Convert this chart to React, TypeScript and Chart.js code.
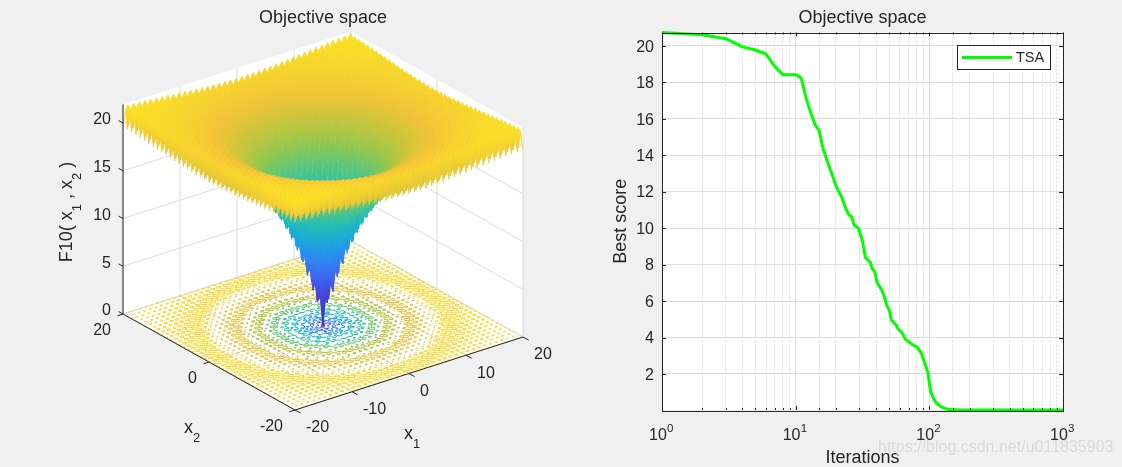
import React, { useEffect, useRef } from "react";
import { Chart, registerables, ScatterController } from "chart.js";

Chart.register(...registerables);

// ---- convergence curve, right panel ----
const iterations = [1, 2, 3, 4, 5, 6, 7, 8, 9, 10, 11, 12, 13, 14, 15, 16, 17, 18, 19, 20, 21, 22, 23, 24, 25, 26.2, 27.4, 29.5, 31.5, 33.3, 36.3, 37.3, 39.1, 40.7, 43.8, 45.6, 48.3, 50.2, 52, 56.4, 58.3, 62.5, 66.2, 72.1, 80.9, 87.1, 92.3, 97.7, 100, 102.3, 107.7, 114, 124, 139, 175, 300, 1000];
const bestScore = [20.72, 20.6, 20.38, 19.93, 19.76, 19.54, 18.85, 18.41, 18.41, 18.41, 18.23, 17.08, 16.3, 15.65, 15.34, 14.37, 13.8, 13.28, 12.82, 12.32, 12.0, 11.73, 11.33, 11.0, 10.72, 10.63, 10.17, 9.99, 9.33, 8.38, 8.11, 7.78, 7.6, 7.0, 6.64, 6.33, 5.73, 5.51, 4.96, 4.69, 4.47, 4.27, 3.91, 3.69, 3.47, 3.15, 2.6, 2.05, 1.51, 1.05, 0.64, 0.38, 0.18, 0.05, 0.03, 0.03, 0.03];
const scoreTicks = [2, 4, 6, 8, 10, 12, 14, 16, 18, 20];
const iterationDecades = [1, 10, 100, 1000];
const iterationExponents = ["0", "1", "2", "3"];
const seriesName = "TSA";
const titleText = "Objective space";

const surfaceRadius = [0, 0.5, 1, 1.5, 2, 3, 4, 5, 6, 8, 10, 12, 14, 16, 18, 20, 22, 24, 26, 28.3];
const surfaceFloor = [0, 1.35, 2.64, 3.82, 4.92, 6.9, 8.64, 10.14, 11.44, 13.56, 15.14, 16.34, 17.23, 17.92, 18.43, 18.82, 19.11, 19.33, 19.49, 19.63];
const rippleLift = [0, 1.72, 2.35]; // cell lift for 0, 1, 2 half-integer coordinates
const contourLevels = [2, 4, 6, 8, 10, 12, 14, 16, 18, 20];
const x1Ticks = [-20, -10, 0, 10, 20];
const x2Ticks = [-20, 0, 20];
const zTicks = [0, 5, 10, 15, 20];
const zTop = 21.95;
const gridCells = 80;
const gridSpan = 20;
const shadeShift = 1.2;

const FONT = '"Liberation Sans", Arial, sans-serif';
const INK = "#262626";
const GRID = "#dcdcdc";
const PANEL_W = 561;
const PAGE_H = 467;
const LEFT_PAD = 85;

const parula: [number, number, number][] = [
  [62, 38, 168], [72, 82, 244], [46, 135, 247], [18, 177, 214], [55, 200, 151],
  [171, 199, 57], [254, 195, 56], [249, 251, 21],
];
function colourAt(z: number): string {
  const t = Math.max(0, Math.min(1, z / zTop)) * (parula.length - 1);
  const i = Math.min(parula.length - 2, Math.floor(t));
  const f = t - i;
  const c = parula[i].map((v, k) => Math.round(v + (parula[i + 1][k] - v) * f));
  return `rgb(${c[0]},${c[1]},${c[2]})`;
}

function project(x1: number, x2: number, z: number) {
  return {
    x: 323 + x1 * 5.7 - x2 * 4.3,
    y: 325.5 - x1 * 1.825 - x2 * 2.4 - z * 9.55,
  };
}

function floorAt(r: number): number {
  for (let i = 1; i < surfaceRadius.length; i++) {
    if (r <= surfaceRadius[i]) {
      const f = (r - surfaceRadius[i - 1]) / (surfaceRadius[i] - surfaceRadius[i - 1]);
      return surfaceFloor[i - 1] + (surfaceFloor[i] - surfaceFloor[i - 1]) * f;
    }
  }
  return surfaceFloor[surfaceFloor.length - 1];
}

function buildHeights(): number[][] {
  const out: number[][] = [];
  for (let i = 0; i <= gridCells; i++) {
    const row: number[] = [];
    for (let j = 0; j <= gridCells; j++) {
      const x1 = -gridSpan + (i * 2 * gridSpan) / gridCells;
      const x2 = -gridSpan + (j * 2 * gridSpan) / gridCells;
      row.push(floorAt(Math.hypot(x1, x2)) + rippleLift[(i % 2) + (j % 2)]);
    }
    out.push(row);
  }
  return out;
}
const cellToCoord = (i: number) => -gridSpan + (i * 2 * gridSpan) / gridCells;

class QuadMeshController extends ScatterController {
  static id = "quadMesh";
  draw() {
    const pts = this.getMeta().data as any[];
    const raw = this.getDataset().data as any[];
    const ctx = this.chart.ctx;
    ctx.save();
    ctx.lineWidth = 0.4;
    for (let i = 0; i + 3 < pts.length; i += 4) {
      ctx.beginPath();
      ctx.moveTo(pts[i].x, pts[i].y);
      ctx.lineTo(pts[i + 1].x, pts[i + 1].y);
      ctx.lineTo(pts[i + 2].x, pts[i + 2].y);
      ctx.lineTo(pts[i + 3].x, pts[i + 3].y);
      ctx.closePath();
      if (raw[i].heat === undefined) {
        ctx.fillStyle = raw[i].fill;
        ctx.fill();
        continue;
      }
      let lo = i, hi = i;
      for (let k = i + 1; k < i + 4; k++) {
        if (raw[k].heat < raw[lo].heat) lo = k;
        if (raw[k].heat > raw[hi].heat) hi = k;
      }
      const g = ctx.createLinearGradient(pts[lo].x, pts[lo].y, pts[hi].x, pts[hi].y);
      g.addColorStop(0, colourAt(raw[lo].heat));
      g.addColorStop(1, colourAt(raw[hi].heat));
      ctx.fillStyle = g;
      ctx.strokeStyle = g;
      ctx.fill();
      ctx.stroke();
    }
    ctx.restore();
  }
}
Chart.register(QuadMeshController as any);

function surfaceQuads(h: number[][]) {
  const data: any[] = [];
  for (let i = gridCells - 1; i >= 0; i--) {
    for (let j = gridCells - 1; j >= 0; j--) {
      const a = cellToCoord(i), b = cellToCoord(i + 1), c = cellToCoord(j), d = cellToCoord(j + 1);
      const z = [h[i][j], h[i + 1][j], h[i + 1][j + 1], h[i][j + 1]];
      data.push(
        { ...project(a, c, z[0]), heat: z[0] - shadeShift },
        { ...project(b, c, z[1]), heat: z[1] - shadeShift },
        { ...project(b, d, z[2]), heat: z[2] - shadeShift },
        { ...project(a, d, z[3]), heat: z[3] - shadeShift },
      );
    }
  }
  return data;
}

function contourPoints(h: number[][], level: number) {
  const pts: any[] = [];
  const gap = { x: NaN, y: NaN };
  for (let i = 0; i < gridCells; i++) {
    for (let j = 0; j < gridCells; j++) {
      const corners = [
        [i, j, h[i][j]], [i + 1, j, h[i + 1][j]],
        [i + 1, j + 1, h[i + 1][j + 1]], [i, j + 1, h[i][j + 1]],
      ];
      const cross: any[] = [];
      for (let k = 0; k < 4; k++) {
        const p = corners[k], q = corners[(k + 1) % 4];
        if (p[2] < level !== q[2] < level) {
          const t = (level - p[2]) / (q[2] - p[2]);
          cross.push(project(cellToCoord(p[0] + (q[0] - p[0]) * t), cellToCoord(p[1] + (q[1] - p[1]) * t), 0));
        }
      }
      if (cross.length >= 2) pts.push(cross[0], cross[1], gap);
      if (cross.length === 4) pts.push(cross[2], cross[3], gap);
    }
  }
  return pts;
}

function segmentsDataset(segments: [any, any][], color: string, width: number, order: number) {
  const data: any[] = [];
  segments.forEach(([a, b]) => data.push(a, b, { x: NaN, y: NaN }));
  return {
    type: "scatter", data, showLine: true, spanGaps: false, borderColor: color,
    borderWidth: width, pointRadius: 0, order, clip: false,
  };
}

function drawRuns(ctx: any, runs: [string, boolean][], x: number, y: number, rot: number) {
  ctx.save();
  ctx.translate(x, y);
  ctx.rotate(rot);
  ctx.textBaseline = "alphabetic";
  ctx.textAlign = "left";
  ctx.fillStyle = INK;
  const width = runs.reduce((s, [t, sub]) => {
    ctx.font = `${sub ? 13 : 18}px ${FONT}`;
    return s + ctx.measureText(t).width;
  }, 0);
  let cx = -width / 2;
  runs.forEach(([t, sub]) => {
    ctx.font = `${sub ? 13 : 18}px ${FONT}`;
    ctx.fillText(t, cx, sub ? 14 : 5);
    cx += ctx.measureText(t).width;
  });
  ctx.restore();
}

const leftLabels = {
  id: "leftLabels",
  afterDatasetsDraw(chart: any) {
    const ctx = chart.ctx;
    ctx.save();
    ctx.fillStyle = INK;
    ctx.font = `16px ${FONT}`;
    ctx.textBaseline = "middle";
    const sx = chart.scales.x, sy = chart.scales.y;
    ctx.textAlign = "right";
    zTicks.forEach((v) => {
      const p = project(-20, 20, v);
      ctx.fillText(String(v), sx.getPixelForValue(p.x) - 12, sy.getPixelForValue(p.y) - 3);
    });
    x2Ticks.forEach((v) => {
      const p = project(-20, v, 0);
      ctx.fillText(String(v), sx.getPixelForValue(p.x) - 12, sy.getPixelForValue(p.y) + 17);
    });
    ctx.textAlign = "left";
    x1Ticks.forEach((v) => {
      const p = project(v, -20, 0);
      ctx.fillText(String(v), sx.getPixelForValue(p.x) + 11, sy.getPixelForValue(p.y) + 18);
    });
    ctx.restore();
    drawRuns(ctx, [["x", false], ["1", true]], 412, 434, 0);
    drawRuns(ctx, [["x", false], ["2", true]], 192, 428, 0);
    drawRuns(ctx, [["F10( x", false], ["1", true], [" , x", false], ["2", true], [" )", false]], 67, 212, -Math.PI / 2);
  },
};

const rightDecor = {
  id: "rightDecor",
  beforeDraw(chart: any) {
    const { left, right, top, bottom } = chart.chartArea;
    chart.ctx.save();
    chart.ctx.fillStyle = "#ffffff";
    chart.ctx.fillRect(left, top, right - left, bottom - top);
    chart.ctx.restore();
  },
  afterDatasetsDraw(chart: any) {
    const ctx = chart.ctx;
    const { left, right, top, bottom } = chart.chartArea;
    const sx = chart.scales.x, sy = chart.scales.y;
    ctx.save();
    ctx.strokeStyle = INK;
    ctx.lineWidth = 1;
    ctx.beginPath();
    sy.ticks.forEach((t: any) => {
      const y = Math.round(sy.getPixelForValue(t.value)) + 0.5;
      ctx.moveTo(left, y); ctx.lineTo(left + 4, y);
      ctx.moveTo(right, y); ctx.lineTo(right - 4, y);
    });
    sx.ticks.forEach((t: any) => {
      const x = Math.round(sx.getPixelForValue(t.value)) + 0.5;
      const len = iterationDecades.includes(t.value) ? 4 : 2;
      ctx.moveTo(x, bottom); ctx.lineTo(x, bottom - len);
      ctx.moveTo(x, top); ctx.lineTo(x, top + len);
    });
    ctx.stroke();
    ctx.strokeRect(Math.round(left) + 0.5, Math.round(top) + 0.5, Math.round(right - left), Math.round(bottom - top));

    // score labels, nudged to sit where the reference has them
    ctx.fillStyle = INK;
    ctx.font = `16px ${FONT}`;
    ctx.textAlign = "right";
    ctx.textBaseline = "middle";
    scoreTicks.forEach((v) => ctx.fillText(String(v), left - 8, sy.getPixelForValue(v) + 1.5));

    // decade labels with raised exponents
    ctx.textBaseline = "alphabetic";
    ctx.textAlign = "left";
    iterationDecades.forEach((v, i) => {
      const x = sx.getPixelForValue(v);
      ctx.font = `16px ${FONT}`;
      ctx.fillText("10", x - 13, 440);
      ctx.font = `11.5px ${FONT}`;
      ctx.fillText(iterationExponents[i], x + 5, 432);
    });

    // legend box
    const lx = 957 - PANEL_W, ly = 45;
    ctx.fillStyle = "#ffffff";
    ctx.fillRect(lx, ly, 93, 24);
    ctx.strokeRect(lx + 0.5, ly + 0.5, 93, 24);
    ctx.strokeStyle = "#00ff00";
    ctx.lineWidth = 3;
    ctx.beginPath();
    ctx.moveTo(lx + 5, ly + 12.5);
    ctx.lineTo(lx + 55, ly + 12.5);
    ctx.stroke();
    ctx.fillStyle = INK;
    ctx.font = `14.5px ${FONT}`;
    ctx.textBaseline = "middle";
    ctx.fillText(seriesName, lx + 59, ly + 13);

    // image watermark
    ctx.font = `16px ${FONT}`;
    ctx.textAlign = "left";
    ctx.shadowColor = "rgba(255,255,255,0.9)";
    ctx.shadowBlur = 1;
    ctx.fillStyle = "rgba(205,205,205,0.75)";
    ctx.fillText("https://blog.csdn.net/u011835903", 878 - PANEL_W, 448);
    ctx.restore();
  },
};

export default function App() {
  const leftRef = useRef<HTMLCanvasElement>(null);
  const rightRef = useRef<HTMLCanvasElement>(null);

  useEffect(() => {
    document.body.style.margin = "0";
    document.body.style.background = "#f0f0f0";
    const h = buildHeights();

    const wall = (pts: any[]) => pts.map((p) => ({ ...p, fill: "#ffffff" }));
    const lineSegs: [any, any][] = [];
    zTicks.forEach((z) => {
      lineSegs.push([project(-20, 20, z), project(20, 20, z)]);
      lineSegs.push([project(20, 20, z), project(20, -20, z)]);
    });
    x1Ticks.forEach((v) => {
      lineSegs.push([project(v, 20, 0), project(v, 20, zTop)]);
      lineSegs.push([project(v, 20, 0), project(v, -20, 0)]);
    });
    x2Ticks.forEach((v) => {
      lineSegs.push([project(20, v, 0), project(20, v, zTop)]);
      lineSegs.push([project(20, v, 0), project(-20, v, 0)]);
    });

    const inkSegs: [any, any][] = [
      [project(-20, 20, 0), project(-20, 20, zTop)],
      [project(-20, 20, 0), project(-20, -20, 0)],
      [project(-20, -20, 0), project(20, -20, 0)],
    ];
    const tipX = (a: any, dx: number, dy: number) => ({ x: a.x + dx, y: a.y + dy });
    zTicks.forEach((z) => {
      const p = project(-20, 20, z);
      inkSegs.push([p, tipX(p, -4.5, -2.4)]);
    });
    x1Ticks.forEach((v) => {
      const p = project(v, -20, 0);
      inkSegs.push([p, tipX(p, 5.6, 3)]);
    });
    x2Ticks.forEach((v) => {
      const p = project(-20, v, 0);
      inkSegs.push([p, tipX(p, -5.6, 1.8)]);
    });

    const left = new Chart(leftRef.current as any, {
      type: "scatter",
      data: {
        datasets: [
          segmentsDataset(inkSegs, INK, 1, 0),
          { type: "quadMesh", data: surfaceQuads(h), order: 1, pointRadius: 0 },
          ...contourLevels.map((lv, i) => ({
            type: "scatter", data: contourPoints(h, lv), showLine: true, spanGaps: false,
            borderColor: colourAt(lv), borderWidth: 1, pointRadius: 0, order: 2 + i, clip: false,
          })),
          segmentsDataset(lineSegs, GRID, 1, 20),
          {
            type: "quadMesh", order: 21, pointRadius: 0,
            data: [
              ...wall([project(-20, 20, 0), project(20, 20, 0), project(20, 20, zTop), project(-20, 20, zTop)]),
              ...wall([project(20, 20, 0), project(20, -20, 0), project(20, -20, zTop), project(20, 20, zTop)]),
              ...wall([project(-20, -20, 0), project(20, -20, 0), project(20, 20, 0), project(-20, 20, 0)]),
            ],
          },
        ] as any,
      },
      options: {
        responsive: false, animation: false, events: [],
        layout: { padding: { left: LEFT_PAD, right: 0, top: 0, bottom: 0 } },
        plugins: {
          legend: { display: false },
          tooltip: { enabled: false },
          title: {
            display: true, text: titleText, color: INK, fullSize: false,
            font: { family: FONT, size: 18, weight: "normal", lineHeight: 20 / 18 },
            padding: { top: 8, bottom: 0 },
          },
        },
        scales: {
          x: { type: "linear", display: false, min: LEFT_PAD, max: PANEL_W },
          y: { type: "linear", display: false, min: 28, max: PAGE_H, reverse: true },
        },
      } as any,
      plugins: [leftLabels as any],
    });

    const right = new Chart(rightRef.current as any, {
      type: "line",
      data: {
        datasets: [{
          label: seriesName,
          data: iterations.map((x, i) => ({ x, y: bestScore[i] })),
          borderColor: "#00ff00", backgroundColor: "#00ff00", borderWidth: 3,
          pointRadius: 0, tension: 0, clip: false, borderJoinStyle: "round",
        }],
      },
      options: {
        responsive: false, animation: false, events: [],
        layout: { padding: { right: 59, top: 0, left: 0, bottom: 0 } },
        plugins: {
          legend: { display: false },
          tooltip: { enabled: false },
          title: {
            display: true, text: titleText, color: INK, fullSize: false,
            font: { family: FONT, size: 18, weight: "normal", lineHeight: 20 / 18 },
            padding: { top: 8, bottom: 4.5 },
          },
        },
        scales: {
          x: {
            type: "logarithmic", min: 1, max: 1000,
            afterFit: (s: any) => { s.height = 57; },
            border: { display: false, dash: (c: any) => (iterationDecades.includes(c.tick?.value) ? [] : [2, 2]) },
            grid: { color: GRID, drawTicks: false, lineWidth: 1 },
            ticks: { autoSkip: false, maxRotation: 0, callback: () => "" },
            title: {
              display: true, text: "Iterations", color: INK,
              font: { family: FONT, size: 18, lineHeight: 20 / 18 }, padding: { top: 0, bottom: -1 },
            },
          },
          y: {
            type: "linear", min: 0.026, max: 20.72,
            afterFit: (s: any) => { s.width = 101; },
            afterBuildTicks: (s: any) => { s.ticks = scoreTicks.map((value) => ({ value })); },
            border: { display: false },
            grid: { color: GRID, drawTicks: false, lineWidth: 1 },
            ticks: { callback: () => "", font: { family: FONT, size: 16 } },
            title: {
              display: true, text: "Best score", color: INK,
              font: { family: FONT, size: 18, lineHeight: 20 / 18 },
              padding: { top: 50, bottom: 50 },
            },
          },
        },
      } as any,
      plugins: [rightDecor as any],
    });

    return () => {
      left.destroy();
      right.destroy();
    };
  }, []);

  return (
    <div style={{ position: "relative", width: 1122, height: PAGE_H, background: "#f0f0f0", overflow: "hidden" }}>
      <canvas ref={leftRef} width={PANEL_W} height={PAGE_H} style={{ position: "absolute", left: 0, top: 0, width: PANEL_W, height: PAGE_H }} />
      <canvas ref={rightRef} width={PANEL_W} height={PAGE_H} style={{ position: "absolute", left: PANEL_W, top: 0, width: PANEL_W, height: PAGE_H }} />
    </div>
  );
}
